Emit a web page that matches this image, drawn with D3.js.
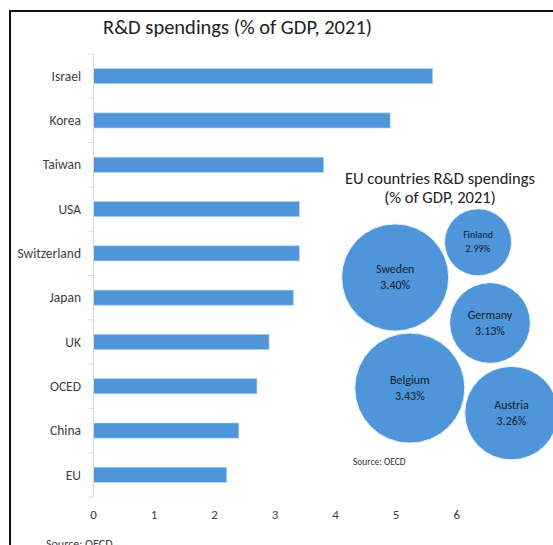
<!DOCTYPE html>
<html>
<head>
<meta charset="utf-8">
<script src="https://cdn.jsdelivr.net/npm/d3@7"></script>
<style>
  body { margin: 0; background: #fff; }
  svg { display: block; }
  text { font-family: Carlito, Calibri, Lato, sans-serif; }
</style>
</head>
<body>
<svg width="553" height="545"></svg>
<script>
// bar chart data (% of GDP, 2021)
const countries = ['Israel', 'Korea', 'Taiwan', 'USA', 'Switzerland', 'Japan', 'UK', 'OCED', 'China', 'EU']
const spending = [5.6, 4.9, 3.8, 3.4, 3.4, 3.3, 2.9, 2.7, 2.4, 2.2]
const xTicks = [0, 1, 2, 3, 4, 5, 6]

// bubble chart data
const euCountries = ['Sweden', 'Finland', 'Germany', 'Belgium', 'Austria']
const euSpending = [3.40, 2.99, 3.13, 3.43, 3.26]

const blue = '#4e95d9'
const svg = d3.select('svg')

// outer frame (runs off the right and bottom edge like the screenshot)
svg.append('rect')
  .attr('x', 10).attr('y', 11)
  .attr('width', 700).attr('height', 700)
  .attr('fill', 'none')
  .attr('stroke', '#111')
  .attr('stroke-width', 2)

svg.append('text')
  .attr('x', 103).attr('y', 34)
  .attr('font-size', 20.5)
  .attr('fill', '#222')
  .text('R&D spendings (% of GDP, 2021)')

// ---- horizontal bars ----
const x = d3.scaleLinear().domain([0, 6]).range([93.5, 456.7])
const y = d3.scaleBand().domain(countries).range([54, 497]).paddingInner(0.66).paddingOuter(0.33)

const g = svg.append('g')

g.selectAll('rect.bar')
  .data(countries)
  .enter().append('rect')
    .attr('class', 'bar')
    .attr('x', x(0))
    .attr('y', d => y(d))
    .attr('width', (d, i) => x(spending[i]) - x(0))
    .attr('height', y.bandwidth())
    .attr('fill', blue)
    .attr('stroke', '#a9cdee')
    .attr('stroke-width', 0.7)

// category axis: gray line with ticks between the bands
const step = y.step()
const bounds = d3.range(countries.length + 1).map(i => 54 + i * step)
g.append('line')
  .attr('x1', x(0)).attr('x2', x(0))
  .attr('y1', 54).attr('y2', 497)
  .attr('stroke', '#d9d9d9')
g.selectAll('line.tick')
  .data(bounds)
  .enter().append('line')
    .attr('class', 'tick')
    .attr('x1', x(0) - 5).attr('x2', x(0))
    .attr('y1', d => d).attr('y2', d => d)
    .attr('stroke', '#d9d9d9')

g.selectAll('text.cat')
  .data(countries)
  .enter().append('text')
    .attr('class', 'cat')
    .attr('x', 81)
    .attr('y', d => y(d) + y.bandwidth() / 2)
    .attr('dy', '0.35em')
    .attr('text-anchor', 'end')
    .attr('font-size', 13.5)
    .attr('fill', '#404040')
    .text(d => d)

g.selectAll('text.xt')
  .data(xTicks)
  .enter().append('text')
    .attr('class', 'xt')
    .attr('x', d => x(d))
    .attr('y', 518.5)
    .attr('text-anchor', 'middle')
    .attr('font-size', 13)
    .attr('fill', '#404040')
    .text(d => d)

svg.append('text')
  .attr('x', 46).attr('y', 548)
  .attr('font-size', 12)
  .attr('fill', '#404040')
  .text('Source: OECD')

// ---- EU bubbles ----
const bub = svg.append('g')

bub.append('text')
  .attr('x', 440).attr('y', 184)
  .attr('text-anchor', 'middle')
  .attr('font-size', 16.5)
  .attr('fill', '#222')
  .text('EU countries R&D spendings')
bub.append('text')
  .attr('x', 440).attr('y', 203)
  .attr('text-anchor', 'middle')
  .attr('font-size', 16.5)
  .attr('fill', '#222')
  .text('(% of GDP, 2021)')

const r = d3.scaleLinear().domain([2.99, 3.43]).range([33.5, 55])

// rough spots for each bubble, the collide force packs them
const spots = [[397, 278], [474, 244], [490, 323], [410, 387], [511, 413]]
const nodes = euCountries.map((c, i) => ({
  name: c, value: euSpending[i], r: r(euSpending[i]),
  ax: spots[i][0], ay: spots[i][1], x: spots[i][0], y: spots[i][1]
}))

const sim = d3.forceSimulation(nodes)
  .force('x', d3.forceX(d => d.ax).strength(0.15))
  .force('y', d3.forceY(d => d.ay).strength(0.15))
  .force('collide', d3.forceCollide(d => d.r + 1.5).iterations(4))
  .stop()
for (let i = 0; i < 300; i++) sim.tick()

const node = bub.selectAll('g.node')
  .data(nodes)
  .enter().append('g')
    .attr('class', 'node')
    .attr('transform', d => 'translate(' + d.x + ',' + d.y + ')')

node.append('circle')
  .attr('r', d => d.r)
  .attr('fill', blue)
  .attr('stroke', '#e8f1fa')
  .attr('stroke-width', 1)

node.append('text')
  .attr('y', -4)
  .attr('text-anchor', 'middle')
  .attr('font-family', '"Noto Sans", sans-serif')
  .attr('font-size', d => d.r < 40 ? 10 : 12)
  .attr('fill', '#14202c')
  .text(d => d.name)
node.append('text')
  .attr('y', d => d.r < 40 ? 10 : 12)
  .attr('text-anchor', 'middle')
  .attr('font-family', '"Noto Sans", sans-serif')
  .attr('font-size', d => d.r < 40 ? 10 : 12)
  .attr('fill', '#14202c')
  .text(d => d3.format('.2f')(d.value) + '%')

bub.append('text')
  .attr('x', 353).attr('y', 465)
  .attr('font-size', 9.5)
  .attr('fill', '#333')
  .text('Source: OECD')
</script>
</body>
</html>
